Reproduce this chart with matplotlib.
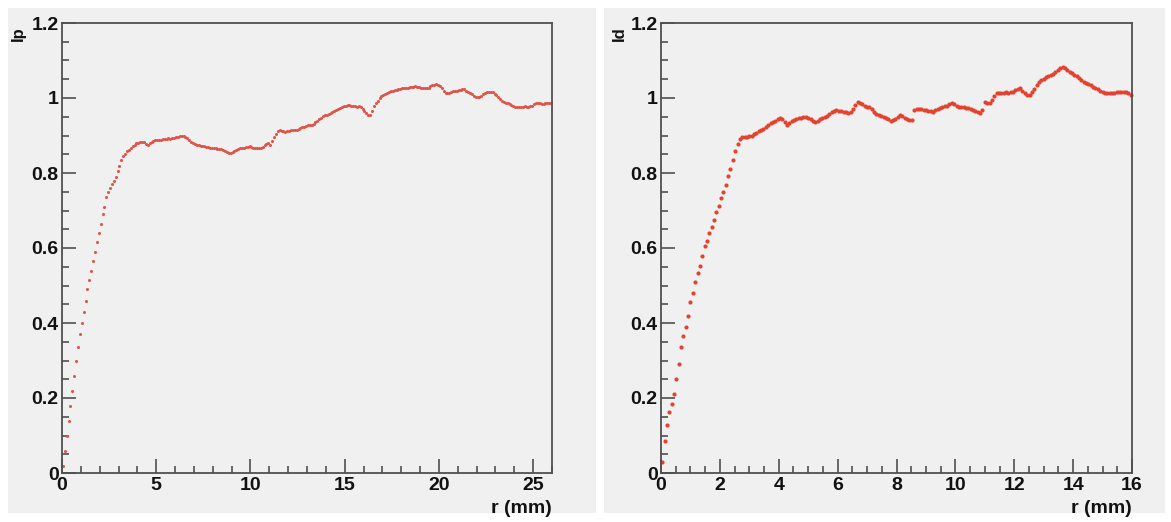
"""Two radial profiles (ROOT-style panels): left r up to 26 mm, right up to 16 mm."""
import matplotlib
matplotlib.use("Agg")
import matplotlib.pyplot as plt  # noqa: E402
from matplotlib.patches import Rectangle  # noqa: E402

W, H = 1171, 522

# left panel: 0.1 mm bins, 0 .. 26 mm
left_step = 0.1
left_y = [
    0.02, 0.06, 0.10, 0.14, 0.18, 0.22, 0.26, 0.30, 0.335, 0.37,
    0.40, 0.43, 0.46, 0.49, 0.515, 0.54, 0.565, 0.59, 0.615, 0.64,
    0.665, 0.69, 0.71, 0.735, 0.75, 0.76, 0.77, 0.78, 0.79, 0.805,
    0.82, 0.835, 0.845, 0.852, 0.858, 0.862, 0.867, 0.872, 0.876, 0.879,
    0.881, 0.883, 0.884, 0.882, 0.878, 0.875, 0.879, 0.883, 0.885, 0.887,
    0.888, 0.888, 0.889, 0.890, 0.890, 0.891, 0.893, 0.892, 0.893, 0.894,
    0.895, 0.897, 0.898, 0.899, 0.899, 0.897, 0.893, 0.888, 0.884, 0.880,
    0.877, 0.875, 0.874, 0.873, 0.872, 0.871, 0.870, 0.869, 0.868, 0.867,
    0.866, 0.866, 0.865, 0.865, 0.864, 0.862, 0.858, 0.855, 0.853, 0.853,
    0.856, 0.859, 0.862, 0.864, 0.866, 0.867, 0.868, 0.869, 0.870, 0.871,
    0.869, 0.867, 0.866, 0.866, 0.867, 0.866, 0.870, 0.874, 0.878, 0.879,
    0.876, 0.885, 0.895, 0.905, 0.912, 0.915, 0.913, 0.911, 0.910, 0.912,
    0.913, 0.914, 0.915, 0.915, 0.916, 0.918, 0.920, 0.922, 0.924, 0.926,
    0.927, 0.928, 0.929, 0.932, 0.936, 0.940, 0.944, 0.947, 0.951, 0.954,
    0.955, 0.957, 0.960, 0.963, 0.965, 0.967, 0.970, 0.973, 0.976, 0.979,
    0.980, 0.981, 0.981, 0.980, 0.979, 0.978, 0.977, 0.978, 0.977, 0.972,
    0.966, 0.960, 0.956, 0.955, 0.965, 0.978, 0.986, 0.992, 0.999, 1.005,
    1.008, 1.011, 1.013, 1.015, 1.018, 1.020, 1.021, 1.022, 1.024, 1.025,
    1.026, 1.027, 1.027, 1.028, 1.029, 1.030, 1.030, 1.031, 1.030, 1.029,
    1.028, 1.027, 1.026, 1.026, 1.028, 1.031, 1.034, 1.036, 1.037, 1.036,
    1.032, 1.027, 1.020, 1.014, 1.013, 1.014, 1.016, 1.018, 1.019, 1.020,
    1.021, 1.022, 1.023, 1.023, 1.020, 1.016, 1.013, 1.010, 1.006, 1.003,
    1.002, 1.003, 1.006, 1.010, 1.014, 1.016, 1.017, 1.017, 1.016, 1.012,
    1.008, 1.003, 0.997, 0.993, 0.990, 0.988, 0.986, 0.984, 0.982, 0.980,
    0.977, 0.975, 0.975, 0.976, 0.977, 0.978, 0.977, 0.977, 0.978, 0.980,
    0.984, 0.987, 0.987, 0.986, 0.985, 0.985, 0.986, 0.987, 0.986, 0.986,
]

# right panel: 0.08 mm bins, 0 .. 16 mm
right_step = 0.08
right_y = [
    0.030, 0.085, 0.128, 0.164, 0.185, 0.210, 0.250, 0.290, 0.335, 0.365,
    0.390, 0.420, 0.455, 0.480, 0.510, 0.533, 0.553, 0.580, 0.605, 0.620,
    0.640, 0.657, 0.675, 0.695, 0.713, 0.733, 0.750, 0.768, 0.793, 0.812,
    0.835, 0.858, 0.878, 0.892, 0.896, 0.895, 0.897, 0.898, 0.900, 0.905,
    0.908, 0.912, 0.915, 0.917, 0.922, 0.928, 0.933, 0.937, 0.940, 0.944,
    0.946, 0.945, 0.935, 0.928, 0.933, 0.939, 0.942, 0.944, 0.946, 0.948,
    0.950, 0.949, 0.946, 0.943, 0.940, 0.937, 0.940, 0.945, 0.948, 0.950,
    0.951, 0.957, 0.962, 0.966, 0.968, 0.966, 0.965, 0.964, 0.962, 0.961,
    0.962, 0.970, 0.982, 0.990, 0.987, 0.983, 0.979, 0.976, 0.975, 0.970,
    0.964, 0.958, 0.955, 0.951, 0.949, 0.946, 0.943, 0.940, 0.941, 0.945,
    0.950, 0.955, 0.953, 0.948, 0.944, 0.941, 0.942, 0.968, 0.970, 0.972,
    0.971, 0.969, 0.967, 0.966, 0.965, 0.964, 0.967, 0.970, 0.974, 0.977,
    0.979, 0.980, 0.983, 0.986, 0.983, 0.980, 0.977, 0.976, 0.975, 0.974,
    0.973, 0.972, 0.969, 0.965, 0.962, 0.959, 0.968, 0.990, 0.988, 0.986,
    0.995, 1.005, 1.013, 1.014, 1.013, 1.014, 1.015, 1.014, 1.015, 1.017,
    1.021, 1.025, 1.026, 1.020, 1.013, 1.009, 1.008, 1.015, 1.025, 1.035,
    1.043, 1.048, 1.052, 1.055, 1.059, 1.062, 1.065, 1.070, 1.076, 1.081,
    1.083, 1.080, 1.075, 1.070, 1.066, 1.062, 1.058, 1.053, 1.048, 1.044,
    1.041, 1.038, 1.034, 1.030, 1.027, 1.023, 1.019, 1.015, 1.013, 1.014,
    1.013, 1.014, 1.014, 1.015, 1.015, 1.016, 1.017, 1.016, 1.013, 1.008,
]

y_ticks = [0, 0.2, 0.4, 0.6, 0.8, 1.0, 1.2]
y_ticklabels = ["0", "0.2", "0.4", "0.6", "0.8", "1", "1.2"]
left_xticks = [0, 5, 10, 15, 20, 25]
right_xticks = [0, 2, 4, 6, 8, 10, 12, 14, 16]

PAD_GREY = "#f0f0f0"
FRAME = "#505050"
LABEL_SIZE = 14
plt.rcParams["font.family"] = ["Liberation Sans", "DejaVu Sans"]
plt.rcParams["font.weight"] = "bold"


def px_box(x0, y0, x1, y1):
    """pixel box (top-left origin) -> figure fraction [l, b, w, h]"""
    return [x0 / W, 1 - y1 / H, (x1 - x0) / W, (y1 - y0) / H]


def style_axes(ax, xmax, xminor, xticks):
    ax.set_facecolor(PAD_GREY)
    ax.set_zorder(2)
    ax.set_xlim(0, xmax)
    ax.set_ylim(0, 1.2)
    for s in ax.spines.values():
        s.set_color(FRAME)
        s.set_linewidth(1.3)
    ax.set_xticks(xticks)
    ax.set_xticklabels([str(t) for t in xticks])
    ax.xaxis.set_minor_locator(matplotlib.ticker.MultipleLocator(xminor))
    ax.set_yticks(y_ticks)
    ax.set_yticklabels(y_ticklabels)
    ax.yaxis.set_minor_locator(matplotlib.ticker.MultipleLocator(0.05))
    ax.tick_params(which="both", direction="in", color=FRAME, width=1.2,
                   top=False, right=False, labelsize=LABEL_SIZE,
                   labelcolor="#111111")
    ax.tick_params(which="major", length=10)
    ax.tick_params(which="minor", length=5)
    ax.tick_params(axis="y", pad=2.5)
    ax.tick_params(axis="x", pad=3)
    for lab in ax.get_xticklabels() + ax.get_yticklabels():
        lab.set_fontweight("bold")


fig = plt.figure(figsize=(W / 100, H / 100), dpi=100, facecolor="white")

# the two grey pads, kept behind the axes
for x0, x1 in ((8, 596), (604, 1165)):
    fig.patches.append(Rectangle((x0 / W, 1 - 513 / H), (x1 - x0) / W,
                                 (513 - 8) / H, transform=fig.transFigure,
                                 facecolor=PAD_GREY, edgecolor="none",
                                 zorder=-10))

ax1 = fig.add_axes(px_box(62, 23, 552, 473))
ax2 = fig.add_axes(px_box(661, 23, 1132, 473))

left_x = [left_step * (i + 0.5) for i in range(len(left_y))]
right_x = [right_step * (i + 0.5) for i in range(len(right_y))]

ax1.plot(left_x, left_y, linestyle="none", marker="o", ms=2.2, mew=0,
         color="#e0554a", clip_on=False)
ax2.plot(right_x, right_y, linestyle="none", marker="o", ms=3.0, mew=0,
         color="#e2432f", clip_on=False)

style_axes(ax1, 26, 1, left_xticks)
style_axes(ax2, 16, 0.5, right_xticks)

for ax in (ax1, ax2):
    ax.text(1.0, -0.06, "r (mm)", transform=ax.transAxes, ha="right",
            va="top", fontsize=LABEL_SIZE, fontweight="bold", color="#111111")

# rotated y titles, partly hidden behind the top tick label as in ROOT
fig.text(18 / W, 1 - 26 / H, "Ip", rotation=90, ha="center", va="top",
         fontsize=12, fontweight="bold", color="#111111", zorder=5)
fig.text(619 / W, 1 - 26 / H, "Id", rotation=90, ha="center", va="top",
         fontsize=12, fontweight="bold", color="#111111", zorder=5)

fig.savefig("out.png", dpi=100, facecolor="white")
